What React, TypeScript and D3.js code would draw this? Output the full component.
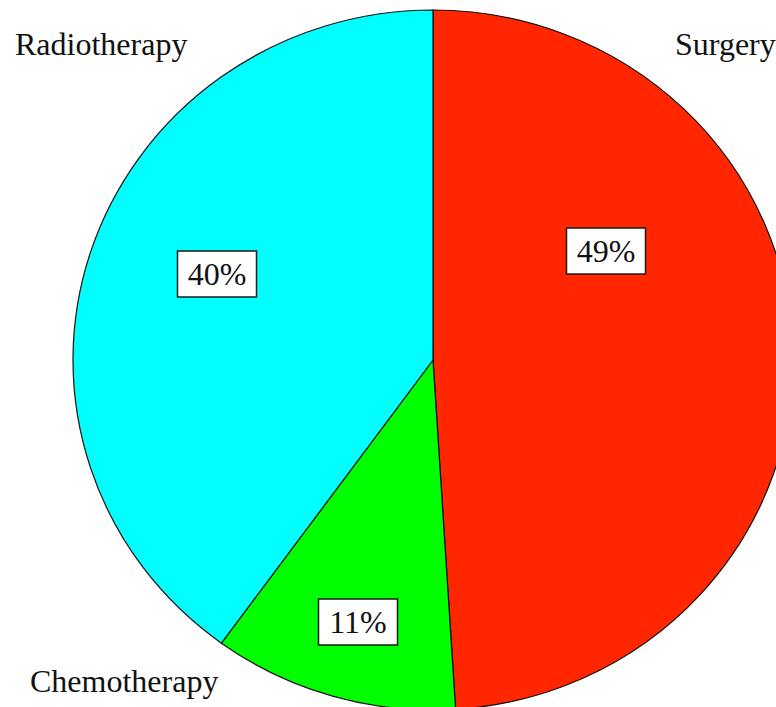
import React from "react";
import * as d3 from "d3";

const categories = ["Surgery", "Chemotherapy", "Radiotherapy"];
const values = [49, 11, 40];
const colors = ["#ff2600", "#00ff00", "#00ffff"];

// layout (pixels)
const W = 776;
const H = 707;
const CX = 433;
const CY = 360;
const RX = 360;
const RY = 350;
const pctBoxes = [
  { x: 606, y: 251 },
  { x: 358, y: 622 },
  { x: 217, y: 274 },
];
const catLabels = [
  { x: 675, y: 55 },
  { x: 30, y: 692 },
  { x: 15, y: 55 },
];

export default function App() {
  const pie = d3
    .pie<number>()
    .sort(null)
    .value((d) => d)
    .startAngle(0)
    .endAngle(2 * Math.PI);
  const arcs = pie(values);
  const arc = d3.arc<d3.PieArcDatum<number>>().innerRadius(0).outerRadius(RX);
  const total = d3.sum(values);
  const font = "'Liberation Serif', 'Times New Roman', serif";
  return (
    <svg
      width={W}
      height={H}
      style={{ position: "absolute", left: 0, top: 0 }}
    >
      <rect width={W} height={H} fill="#ffffff" />
      <g transform={`translate(${CX},${CY}) scale(1,${RY / RX})`}>
        {arcs.map((a, i) => (
          <path
            key={i}
            d={arc(a) || ""}
            fill={colors[i]}
            stroke="#111"
            strokeWidth={1.2}
            vectorEffect="non-scaling-stroke"
          />
        ))}
      </g>
      {arcs.map((a, i) => {
        const p = pctBoxes[i];
        const label = `${Math.round((values[i] / total) * 100)}%`;
        return (
          <g key={"b" + i}>
            <rect
              x={p.x - 39.5}
              y={p.y - 23}
              width={79}
              height={46}
              fill="#ffffff"
              stroke="#1a1a1a"
              strokeWidth={1.5}
            />
            <text
              x={p.x}
              y={p.y + 11}
              textAnchor="middle"
              fontFamily={font}
              fontSize={32}
              fill="#111"
            >
              {label}
            </text>
          </g>
        );
      })}
      {categories.map((c, i) => (
        <text
          key={"c" + i}
          x={catLabels[i].x}
          y={catLabels[i].y}
          fontFamily={font}
          fontSize={32}
          fill="#111"
        >
          {c}
        </text>
      ))}
    </svg>
  );
}
